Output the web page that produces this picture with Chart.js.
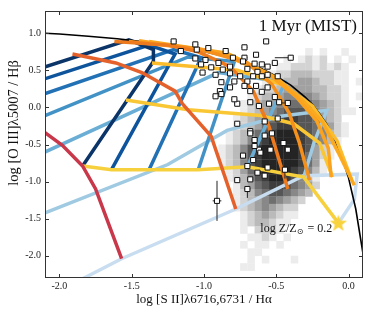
<!DOCTYPE html>
<html>
<head>
<meta charset="utf-8">
<script src="https://cdn.jsdelivr.net/npm/chart.js@4.4.1/dist/chart.umd.min.js"></script>
<style>
  body { margin: 0; background: #fff; }
</style>
</head>
<body>
<canvas id="bpt" width="374" height="316"></canvas>
<script>
// axis ticks
const xTicks = [-2.0, -1.5, -1.0, -0.5, 0.0];
const yTicks = [-2.0, -1.5, -1.0, -0.5, 0.0, 0.5, 1.0];

// maximum starburst line
const maxLine = [[-2.2,1.01],[-2.0,0.99],[-1.8,0.96],[-1.6,0.925],[-1.4,0.88],[-1.2,0.83],[-1.0,0.755],
  [-0.8,0.66],[-0.7,0.59],[-0.6,0.52],[-0.5,0.42],[-0.4,0.30],[-0.3,0.14],[-0.25,0.04],[-0.2,-0.09],
  [-0.15,-0.23],[-0.1,-0.41],[-0.05,-0.65],[0.0,-0.95],[0.05,-1.37],[0.1,-1.97],[0.12,-2.3]];

// blue grid lines (dark -> light)
const blue1 = [[-1.84,-0.79],[-1.35,0.62],[-1.35,0.78],[-1.52,0.91],[-2.11,0.54],[-2.2,0.48]];
const blue2 = [[-1.64,-0.84],[-1.20,0.72],[-1.38,0.84],[-2.11,0.38],[-2.2,0.32]];
const blue3 = [[-1.38,-0.84],[-1.02,0.67],[-1.21,0.78],[-2.11,0.18],[-2.2,0.12]];
const blue4 = [[-1.04,-0.84],[-0.79,0.62],[-1.11,0.68],[-2.11,-0.12],[-2.2,-0.19]];
const blue5 = [[-0.70,-0.80],[-0.44,0.34],[-0.90,0.47],[-2.11,-0.61],[-2.2,-0.69]];
const blue6 = [[-0.31,-0.94],[-0.24,-0.48],[-0.15,-0.04],[-0.47,-0.12],[-0.84,-0.31],[-1.25,-0.77],[-2.11,-1.43],[-2.2,-1.50]];
const blue7 = [[-0.07,-1.56],[0.04,-1.24],[0.06,-0.90],[-0.31,-0.92],[-0.78,-1.37],[-1.57,-2.04],[-1.84,-2.31],[-1.95,-2.4]];
const blueColors = ['#0b3469', '#0d549c', '#2271b5', '#4292c6', '#6aaed6', '#9fcae1', '#c8ddf0'];

// warm grid lines (red -> yellow)
const warm1 = [[-2.2,-0.20],[-2.10,-0.34],[-1.98,-0.51],[-1.84,-0.79],[-1.75,-1.10],[-1.57,-2.04]];
const warm2 = [[-1.91,0.72],[-1.61,0.60],[-1.43,0.47],[-1.20,0.22],[-1.15,0.05],[-0.95,-0.39],[-0.78,-1.37]];
const warm3 = [[-1.62,0.89],[-1.25,0.84],[-1.04,0.75],[-0.82,0.55],[-0.66,0.22],[-0.55,-0.26],[-0.42,-1.10]];
const warm4 = [[-1.52,0.89],[-1.04,0.79],[-0.70,0.60],[-0.53,0.31],[-0.41,-0.08],[-0.34,-0.48],[-0.27,-0.98]];
const warm5 = [[-1.45,0.90],[-0.90,0.74],[-0.55,0.45],[-0.36,0.14],[-0.22,-0.18],[-0.14,-0.55],[-0.12,-0.94]];
const warm6 = [[-1.38,0.89],[-0.84,0.73],[-0.50,0.40],[-0.32,0.10],[-0.18,-0.20],[-0.06,-0.65],[0.04,-1.05]];
const gold1 = [[-1.36,0.60],[-0.77,0.50],[-0.45,0.30],[-0.25,0.02],[-0.08,-0.45],[0.02,-0.97]];
const gold2 = [[-1.54,0.10],[-1.11,-0.03],[-0.61,-0.11],[-0.38,-0.22],[-0.20,-0.48],[-0.11,-0.94]];
const gold3 = [[-1.84,-0.79],[-1.64,-0.84],[-1.38,-0.84],[-1.04,-0.84],[-0.70,-0.80],[-0.31,-0.94],[-0.07,-1.56]];
const warmColors = ['#c8374a', '#e5612b', '#ee7a1e', '#f5901d', '#fba21f', '#fbaa1f', '#fbbd2b', '#f9c733', '#f7d03e'];

// high-Z end point
const starPoint = [[-0.07, -1.56]];

// observed galaxies
const obsPoints = [[-0.57,0.89],[-0.72,0.81],[-0.85,0.76],[-0.97,0.80],[-1.05,0.78],[-1.16,0.76],[-1.21,0.89],
  [-1.06,0.85],[-1.06,0.66],[-0.99,0.64],[-0.90,0.60],[-0.80,0.67],[-0.72,0.67],[-0.64,0.71],[-0.73,0.62],
  [-0.65,0.59],[-0.60,0.58],[-0.56,0.55],[-0.51,0.60],[-0.40,0.67],[-1.02,0.58],[-0.95,0.54],[-0.87,0.51],
  [-0.82,0.55],[-0.70,0.52],[-0.63,0.48],[-0.56,0.44],[-1.01,0.47],[-0.92,0.44],[-0.82,0.46],[-0.75,0.42],
  [-0.66,0.42],[-0.60,0.42],[-0.49,0.42],[-0.88,0.34],[-0.79,0.35],[-0.70,0.35],[-0.89,0.22],[-0.82,0.27],
  [-0.72,0.29],[-0.64,0.29],[-0.56,0.27],[-0.92,0.15],[-0.88,0.18],[-0.68,0.22],[-0.60,0.21],[-0.51,0.14],
  [-0.77,0.05],[-0.79,0.11],[-0.68,0.07],[-0.62,0.02],[-0.55,0.05],[-0.48,0.07],[-0.42,0.06],[-0.77,-0.22],
  [-0.68,-0.32],[-0.65,-0.44],[-0.58,-0.38],[-0.53,-0.35],[-0.58,-0.19],[-0.49,-0.15],[-0.62,-0.57],
  [-0.73,-0.65],[-0.66,-0.71],[-0.54,-0.57],[-0.42,-0.57],[-0.70,-0.79],[-0.63,-0.88],[-0.56,-0.81],
  [-0.44,-0.84],[-0.77,-0.98],[-0.68,-0.97],[-0.70,-1.10],[-0.58,-0.92],[-0.65,-0.52],[-0.61,-0.61],
  [-0.45,-0.48],[-0.68,-0.35],[-0.91,-1.26]];
const obsTypicalErr = [0.02, 0.035];
// [x, y, x- , x+, y-, y+] for the larger error bars
const obsBigErr = [[-0.40,0.67,0.11,0.0,0.02,0.02],[-0.42,0.06,0.06,0.02,0.03,0.03],[-0.91,-1.26,0.03,0.03,0.27,0.27],
  [-0.44,-0.84,0.02,0.02,0.12,0.03],[-0.70,-1.10,0.02,0.02,0.12,0.04]];

// SDSS density, bins 0.05 (x) by 0.1 (y), first column starts at x=-1.0, first row tops at y=0.8
const histX0 = -1.0, histBinX = 0.05, histY0 = 0.8, histBinY = 0.1;
const histRows = [
  '..............1.1..1..',
  '...........1.1212.1.1.',
  '..........1122212121..',
  '.........12233322211..',
  '........122334432211.1',
  '.......1223444433221..',
  '......12334555543221.1',
  '.....123445666654321..',
  '.....1234567776543211.',
  '....123456788776432...',
  '....1234678887765421..',
  '...12346789998765321..',
  '...1235789999876531...',
  '..1235789999987421....',
  '..1235789999986421....',
  '..123578999998641.....',
  '...12468999987531.....',
  '...1235789987531......',
  '....134678876542......',
  '....12356776543.......',
  '....1234565432........',
  '....123454322.........',
  '.....12343211.........',
  '.....1233211..........',
  '.....1.2221...........',
  '......1121.1..........',
  '.....1.11.1...........',
  '......11..............',
  '......1.1...1.........',
  '.....11...............'
];

const serif = "'Liberation Serif', 'DejaVu Serif', serif";

function pts(arr) {
  return arr.map(p => ({x: p[0], y: p[1]}));
}

function lineSet(arr, color, order) {
  return {
    data: pts(arr),
    showLine: true,
    borderColor: color,
    borderWidth: 3.5,
    pointRadius: 0,
    tension: 0,
    clip: 0,
    order: order
  };
}

// star marker
var starImg = document.createElement('canvas');
starImg.width = 20; starImg.height = 20;
(function(){
  var c = starImg.getContext('2d');
  c.beginPath();
  for (var i = 0; i < 10; i++) {
    var r = i % 2 == 0 ? 9 : 3.8;
    var a = -Math.PI/2 + i*Math.PI/5;
    c.lineTo(10 + r*Math.cos(a), 10.5 + r*Math.sin(a));
  }
  c.closePath();
  c.fillStyle = '#f9d33d';
  c.fill();
})();

const histPlugin = {
  id: 'hist',
  beforeDatasetsDraw(chart) {
    const {ctx, chartArea: a, scales: {x, y}} = chart;
    ctx.save();
    ctx.beginPath();
    ctx.rect(a.left, a.top, a.width, a.height);
    ctx.clip();
    histRows.forEach((row, r) => {
      for (let c = 0; c < row.length; c++) {
        const d = parseInt(row[c]);
        if (!d) continue;
        const x0 = x.getPixelForValue(histX0 + c*histBinX);
        const x1 = x.getPixelForValue(histX0 + (c+1)*histBinX);
        const y0 = y.getPixelForValue(histY0 - r*histBinY);
        const y1 = y.getPixelForValue(histY0 - (r+1)*histBinY);
        const g = Math.round(236 - (d-1)*25);
        ctx.fillStyle = 'rgb(' + g + ',' + g + ',' + g + ')';
        ctx.fillRect(x0, y0, x1 - x0 + 0.3, y1 - y0 + 0.3);
      }
    });
    ctx.restore();
  }
};

const errPlugin = {
  id: 'errbars',
  beforeDatasetDraw(chart, args) {
    if (args.meta._dataset.label !== 'obs') return;
    const {ctx, scales: {x, y}} = chart;
    ctx.save();
    ctx.strokeStyle = '#222';
    ctx.lineWidth = 1;
    function bar(px, py, xm, xp, ym, yp) {
      ctx.beginPath();
      ctx.moveTo(x.getPixelForValue(px - xm), y.getPixelForValue(py));
      ctx.lineTo(x.getPixelForValue(px + xp), y.getPixelForValue(py));
      ctx.moveTo(x.getPixelForValue(px), y.getPixelForValue(py - ym));
      ctx.lineTo(x.getPixelForValue(px), y.getPixelForValue(py + yp));
      ctx.stroke();
    }
    obsPoints.forEach(p => bar(p[0], p[1], obsTypicalErr[0], obsTypicalErr[0], obsTypicalErr[1], obsTypicalErr[1]));
    obsBigErr.forEach(e => bar(e[0], e[1], e[2], e[3], e[4], e[5]));
    ctx.restore();
  }
};

const framePlugin = {
  id: 'frame',
  afterDatasetsDraw(chart) {
    const {ctx, chartArea: a, scales: {x, y}} = chart;
    ctx.save();
    ctx.strokeStyle = '#333';
    ctx.lineWidth = 1;
    ctx.strokeRect(a.left + 0.5, a.top + 0.5, a.width - 1, a.height - 1);
    ctx.beginPath();
    xTicks.forEach(v => {
      const px = Math.round(x.getPixelForValue(v)) + 0.5;
      ctx.moveTo(px, a.bottom); ctx.lineTo(px, a.bottom - 4);
      ctx.moveTo(px, a.top); ctx.lineTo(px, a.top + 4);
    });
    yTicks.forEach(v => {
      const py = Math.round(y.getPixelForValue(v)) + 0.5;
      ctx.moveTo(a.left, py); ctx.lineTo(a.left + 4, py);
      ctx.moveTo(a.right, py); ctx.lineTo(a.right - 4, py);
    });
    ctx.stroke();

    // texts
    ctx.fillStyle = '#111';
    ctx.font = '17px ' + serif;
    ctx.textAlign = 'right';
    ctx.textBaseline = 'alphabetic';
    ctx.fillText('1 Myr (MIST)', a.right - 6, a.top + 20);

    // metallicity label
    ctx.font = '12px ' + serif;
    ctx.textAlign = 'left';
    let tx = x.getPixelForValue(-0.61), ty = y.getPixelForValue(-1.63) + 4;
    const t1 = 'log Z/Z';
    ctx.fillText(t1, tx, ty);
    tx += ctx.measureText(t1).width;
    ctx.font = '8px ' + 'DejaVu Sans';
    ctx.fillText('\u2299', tx, ty + 2);
    tx += ctx.measureText('\u2299').width + 1;
    ctx.font = '12px ' + serif;
    ctx.fillText(' = 0.2', tx, ty);

    // axis titles
    ctx.font = '13px ' + serif;
    ctx.textAlign = 'center';
    ctx.textBaseline = 'middle';
    ctx.fillText('log [S II]\u03bb6716,6731 / H\u03b1', (a.left + a.right) / 2, 300);
    ctx.save();
    ctx.translate(14, 123);
    ctx.rotate(-Math.PI / 2);
    ctx.font = '14.5px ' + serif;
    ctx.fillText('log [O III]\u03bb5007 / H\u03b2', 0, 0);
    ctx.restore();
    ctx.restore();
  }
};

const datasets = [
  {label: 'star', data: pts(starPoint), pointStyle: starImg, pointRadius: 10, order: 0, clip: false},
  {label: 'obs', data: pts(obsPoints), pointStyle: 'rect', pointRadius: 3.6,
   backgroundColor: '#fff', borderColor: '#111', borderWidth: 1, order: 1},
  lineSet(maxLine, '#000', 3)
];
datasets[2].borderWidth = 1.6;
[warm1, warm2, warm3, warm4, warm5, warm6, gold1, gold2, gold3].forEach((l, i) => {
  datasets.push(lineSet(l, warmColors[i], 2));
});
[blue1, blue2, blue3, blue4, blue5, blue6, blue7].forEach((l, i) => {
  datasets.push(lineSet(l, blueColors[i], 4));
});

new Chart(document.getElementById('bpt'), {
  type: 'scatter',
  data: {datasets: datasets},
  options: {
    responsive: false,
    animation: false,
    devicePixelRatio: 1,
    layout: {padding: {top: 5, right: 8, left: 0, bottom: 0}},
    plugins: {legend: {display: false}, tooltip: {enabled: false}},
    scales: {
      x: {
        type: 'linear', min: -2.1, max: 0.1,
        afterFit: s => { s.height = 38; },
        afterBuildTicks: s => { s.ticks = xTicks.map(v => ({value: v})); },
        grid: {display: false, drawTicks: false},
        border: {display: false},
        ticks: {padding: 2, color: '#222', font: {family: serif, size: 10}, callback: v => v.toFixed(1)}
      },
      y: {
        type: 'linear', min: -2.3, max: 1.3,
        afterFit: s => { s.width = 45; },
        afterBuildTicks: s => { s.ticks = yTicks.map(v => ({value: v})); },
        grid: {display: false, drawTicks: false},
        border: {display: false},
        ticks: {padding: 4, color: '#222', font: {family: serif, size: 10}, callback: v => v.toFixed(1)}
      }
    }
  },
  plugins: [histPlugin, errPlugin, framePlugin]
});
</script>
</body>
</html>
